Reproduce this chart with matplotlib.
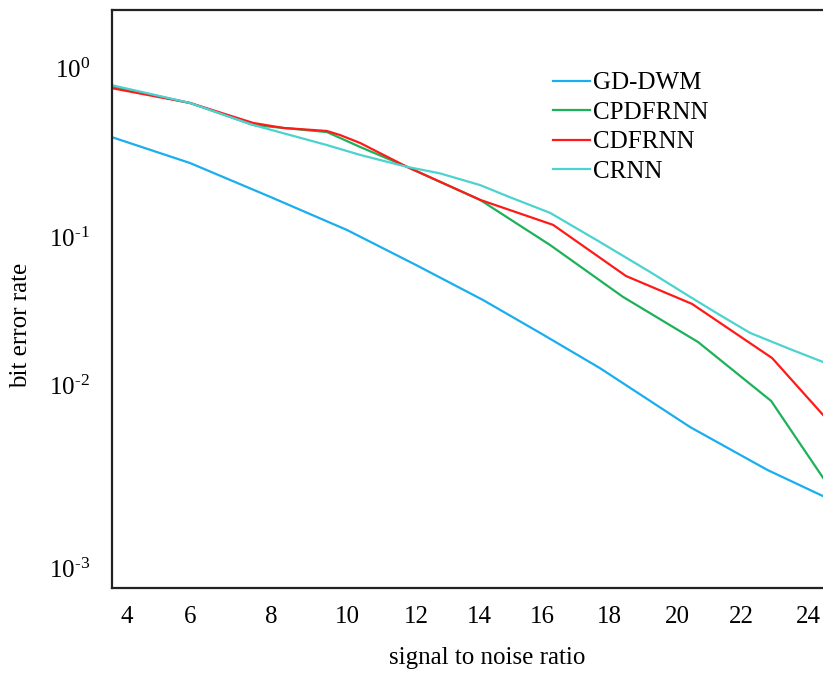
import numpy as np
from matplotlib import pyplot as plt
from matplotlib.ticker import NullLocator

# tick values and where the reference puts them (its axes are not evenly spaced)
x_ticks = [4, 6, 8, 10, 12, 14, 16, 18, 20, 22, 24]
x_tick_at = [127, 190, 271, 347, 416, 479, 542, 609, 677, 741, 808]
y_ticks = [1e-3, 1e-2, 1e-1, 1e0]
y_tick_labels = ['10$^{\\text{-}3}$', '10$^{\\text{-}2}$', '10$^{\\text{-}1}$', '10$^{0}$']
y_tick_at = [105, 288, 436, 605]

snr_gd = [3.5, 6, 8, 10, 12, 14.13, 16, 17.73, 20.41, 22.78, 24.45]
ber_gd = [0.391, 0.274, 0.172, 0.110, 0.0647, 0.0375, 0.0221, 0.0130, 0.00589, 0.00344, 0.00247]

snr_cpd = [3.5, 6.0, 7.56, 8.32, 9.47, 10.38, 11.74, 14.03, 16.24, 18.41, 20.66, 22.90, 24.45]
ber_cpd = [0.782, 0.621, 0.460, 0.442, 0.418, 0.341, 0.260, 0.166, 0.0883, 0.0394, 0.0195, 0.00818, 0.00311]

snr_cd = [3.5, 6.0, 7.56, 8.32, 9.47, 9.82, 10.38, 11.74, 14.03, 16.33, 18.5, 20.47, 22.93, 24.45]
ber_cd = [0.761, 0.621, 0.473, 0.442, 0.424, 0.401, 0.360, 0.260, 0.166, 0.118, 0.0545, 0.0353, 0.0152, 0.00686]

snr_cr = [3.5, 6.0, 7.56, 9.47, 10.38, 11.74, 12.76, 14.03, 14.98, 16.24, 17.73, 19.21, 20.41, 21.34, 22.27, 23.46, 24.45]
ber_cr = [0.793, 0.621, 0.460, 0.350, 0.306, 0.260, 0.238, 0.203, 0.172, 0.139, 0.0925, 0.0580, 0.0394, 0.0297, 0.0225, 0.0175, 0.0143]


def piecewise(k_in, k_out):
    k_in = np.asarray(k_in, float)
    k_out = np.asarray(k_out, float)
    s0 = (k_out[1] - k_out[0]) / (k_in[1] - k_in[0])
    s1 = (k_out[-1] - k_out[-2]) / (k_in[-1] - k_in[-2])

    def f(v):
        v = np.asarray(v, float)
        out = np.interp(v, k_in, k_out)
        out = np.where(v < k_in[0], k_out[0] + (v - k_in[0]) * s0, out)
        out = np.where(v > k_in[-1], k_out[-1] + (v - k_in[-1]) * s1, out)
        return out
    return f


x_fwd = piecewise(x_ticks, x_tick_at)
x_inv = piecewise(x_tick_at, x_ticks)
y_log = np.log10(y_ticks)
y_fwd_lin = piecewise(y_log, y_tick_at)
y_inv_lin = piecewise(y_tick_at, y_log)


def y_fwd(v):
    return y_fwd_lin(np.log10(np.clip(np.asarray(v, float), 1e-300, None)))


def y_inv(v):
    return 10 ** y_inv_lin(v)


plt.rcParams['font.family'] = ['Liberation Serif', 'DejaVu Serif']
plt.rcParams['mathtext.fontset'] = 'custom'
plt.rcParams['mathtext.rm'] = 'Liberation Serif'
plt.rcParams['mathtext.it'] = 'Liberation Serif:italic'
plt.rcParams['mathtext.bf'] = 'Liberation Serif:bold'

fig = plt.figure(figsize=(8.23, 6.73), dpi=100)
ax = fig.add_axes([112 / 823, 85 / 673, 711 / 823, 578 / 673])
ax.set_xscale('function', functions=(x_fwd, x_inv))
ax.set_yscale('function', functions=(y_fwd, y_inv))

ax.plot(snr_gd, ber_gd, color='#1AAEEF', lw=1.6, label='GD-DWM')
ax.plot(snr_cpd, ber_cpd, color='#1DB15A', lw=1.6, label='CPDFRNN')
ax.plot(snr_cd, ber_cd, color='#FF1A1A', lw=1.6, label='CDFRNN')
ax.plot(snr_cr, ber_cr, color='#4CD2CF', lw=1.6, label='CRNN')

ax.set_xlim(x_inv(112), x_inv(823))
ax.set_ylim(y_inv(673 - 588), y_inv(673 - 10))
ax.set_xticks(x_ticks)
ax.set_xticklabels([str(t) for t in x_ticks])
ax.set_yticks(y_ticks)
ax.set_yticklabels(y_tick_labels)
ax.xaxis.set_minor_locator(NullLocator())
ax.yaxis.set_minor_locator(NullLocator())
ax.tick_params(axis='both', length=0, labelsize=18)
ax.tick_params(axis='x', pad=13)
ax.tick_params(axis='y', pad=16)

ax.spines['right'].set_visible(False)
for s in ['left', 'top', 'bottom']:
    ax.spines[s].set_linewidth(1.6)
    ax.spines[s].set_color('#222222')

ax.set_xlabel('signal to noise ratio', fontsize=18)
ax.set_ylabel('bit error rate', fontsize=18)
ax.xaxis.set_label_coords(0.527, -0.102)
ax.yaxis.set_label_coords(-0.112, 0.455)

ax.legend(loc='upper left', bbox_to_anchor=(0.62, 0.893), frameon=False,
          fontsize=18, handlelength=1.5, handletextpad=0.1, labelspacing=0.28,
          borderpad=0, borderaxespad=0)

fig.savefig('out.png', dpi=100)
